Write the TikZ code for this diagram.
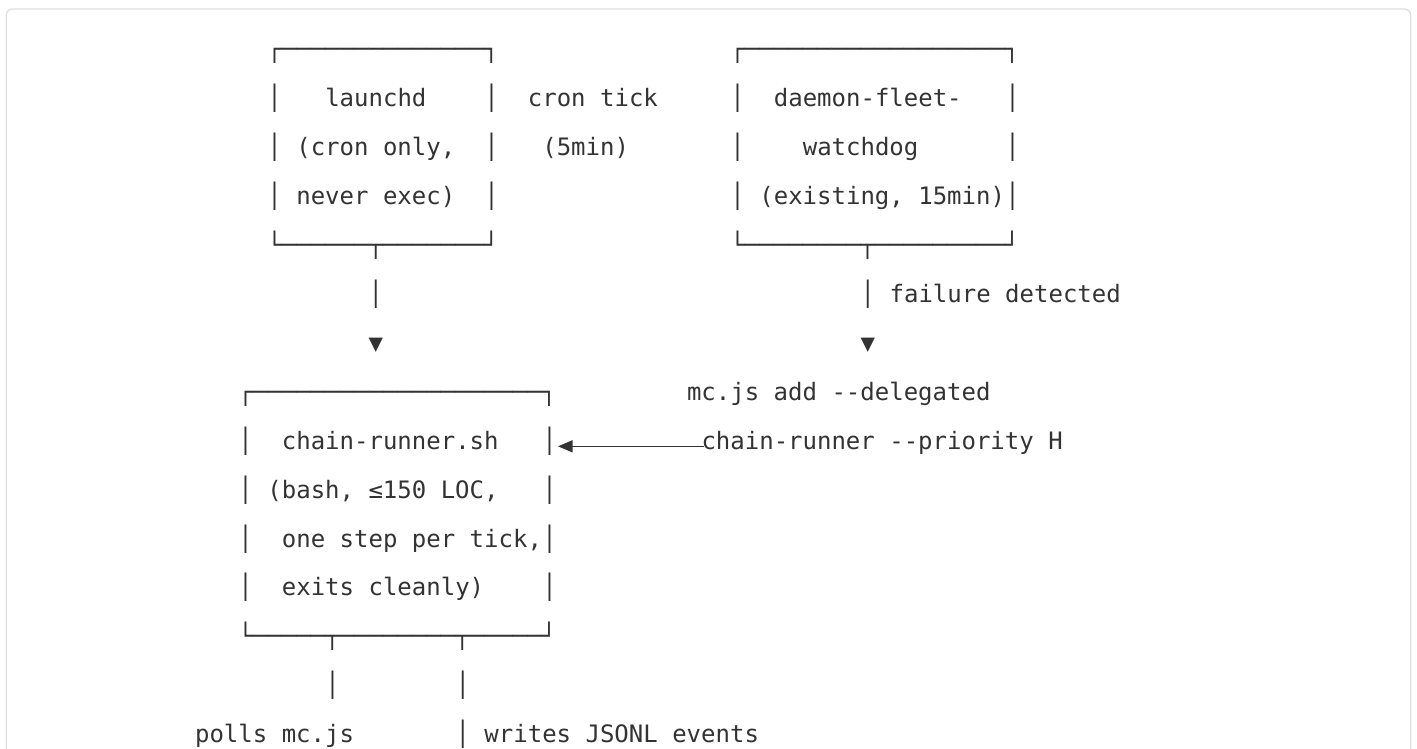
\documentclass[tikz,border=0pt]{standalone}
\usepackage{fontspec}
\usetikzlibrary{arrows.meta}
\setmonofont{DejaVu Sans Mono}
\definecolor{ink}{HTML}{333333}
\definecolor{framegray}{HTML}{E0E0E0}
\ExplSyntaxOn
\cs_new:Npn \hbars #1 { \prg_replicate:nn {#1} {─} }
\ExplSyntaxOff
\begin{document}
\begin{tikzpicture}[x=0.75pt,y=-0.75pt,
  txt/.style={anchor=base west,inner sep=0pt,outer sep=0pt,
    font=\ttfamily\fontsize{18pt}{18pt}\selectfont,text=ink},
  arrowline/.style={draw=ink,line width=1.2pt,
    -{Triangle[length=11pt,width=9pt]}}]
\clip (0,0) rectangle (1417,749);
\fill[white] (0,0) rectangle (1417,749);
\draw[framegray,line width=1pt,rounded corners=4.5pt] (6.3,9) rectangle (1410.7,800);
\begin{scope}[shift={(238.47,57.6)},x=10.8525pt,y=-36.705pt]
% row 0
\node[txt] (la0) at (2,0) {┌\hbars{14}┐};
\node[txt] (dw0) at (34,0) {┌\hbars{18}┐};
% row 1
\node[txt] (la1l) at (2,1) {│};
\node[txt] (launchd) at (6,1) {launchd};
\node[txt] (la1r) at (17,1) {│};
\node[txt] (crontick) at (20,1) {cron tick};
\node[txt] (dw1l) at (34,1) {│};
\node[txt] (daemon) at (37,1) {daemon-fleet-};
\node[txt] (dw1r) at (53,1) {│};
% row 2
\node[txt] (la2l) at (2,2) {│};
\node[txt] (cronly) at (4,2) {(cron only,};
\node[txt] (la2r) at (17,2) {│};
\node[txt] (fivemin) at (21,2) {(5min)};
\node[txt] (dw2l) at (34,2) {│};
\node[txt] (watchdog) at (39,2) {watchdog};
\node[txt] (dw2r) at (53,2) {│};
% row 3
\node[txt] (la3l) at (2,3) {│};
\node[txt] (never) at (4,3) {never exec)};
\node[txt] (la3r) at (17,3) {│};
\node[txt] (dw3l) at (34,3) {│};
\node[txt] (existing) at (36,3) {(existing, 15min)};
\node[txt] (dw3r) at (53,3) {│};
% row 4
\node[txt] (la4) at (2,4) {└\hbars{6}┬\hbars{7}┘};
\node[txt] (dw4) at (34,4) {└\hbars{8}┬\hbars{9}┘};
% row 5
\node[txt] (v1) at (9,5) {│};
\node[txt] (v2) at (43,5) {│};
\node[txt] (failure) at (45,5) {failure detected};
% row 6
\node[txt] (a1) at (9,6) {▼};
\node[txt] (a2) at (43,6) {▼};
% row 7
\node[txt] (cr7) at (0,7) {┌\hbars{20}┐};
\node[txt] (mcadd) at (31,7) {mc.js add --delegated};
% row 8
\node[txt] (cr8l) at (0,8) {│};
\node[txt] (chainsh) at (3,8) {chain-runner.sh};
\node[txt] (cr8r) at (21,8) {│};
\node[txt] (prio) at (32,8) {chain-runner --priority H};
\coordinate (arrS) at ([xshift=1.6pt,yshift=2.1pt]prio.base west);
\path (cr8r.east |- arrS) ++(0.9pt,0) coordinate (arrE);
\draw[arrowline] (arrS) -- (arrE);
% row 9
\node[txt] (cr9l) at (0,9) {│};
\node[txt] (bash) at (2,9) {(bash, ≤150 LOC,};
\node[txt] (cr9r) at (21,9) {│};
% row 10
\node[txt] (cr10l) at (0,10) {│};
\node[txt] (onestep) at (3,10) {one step per tick,};
\node[txt] (cr10r) at (21,10) {│};
% row 11
\node[txt] (cr11l) at (0,11) {│};
\node[txt] (exits) at (3,11) {exits cleanly)};
\node[txt] (cr11r) at (21,11) {│};
% row 12
\node[txt] (cr12) at (0,12) {└\hbars{5}┬\hbars{8}┬\hbars{5}┘};
% row 13
\node[txt] (v3) at (6,13) {│};
\node[txt] (v4) at (15,13) {│};
% row 14
\node[txt] (polls) at (-3,14) {polls mc.js};
\node[txt] (v5) at (15,14) {│};
\node[txt] (writes) at (17,14) {writes JSONL events};
\end{scope}
\end{tikzpicture}
\end{document}
